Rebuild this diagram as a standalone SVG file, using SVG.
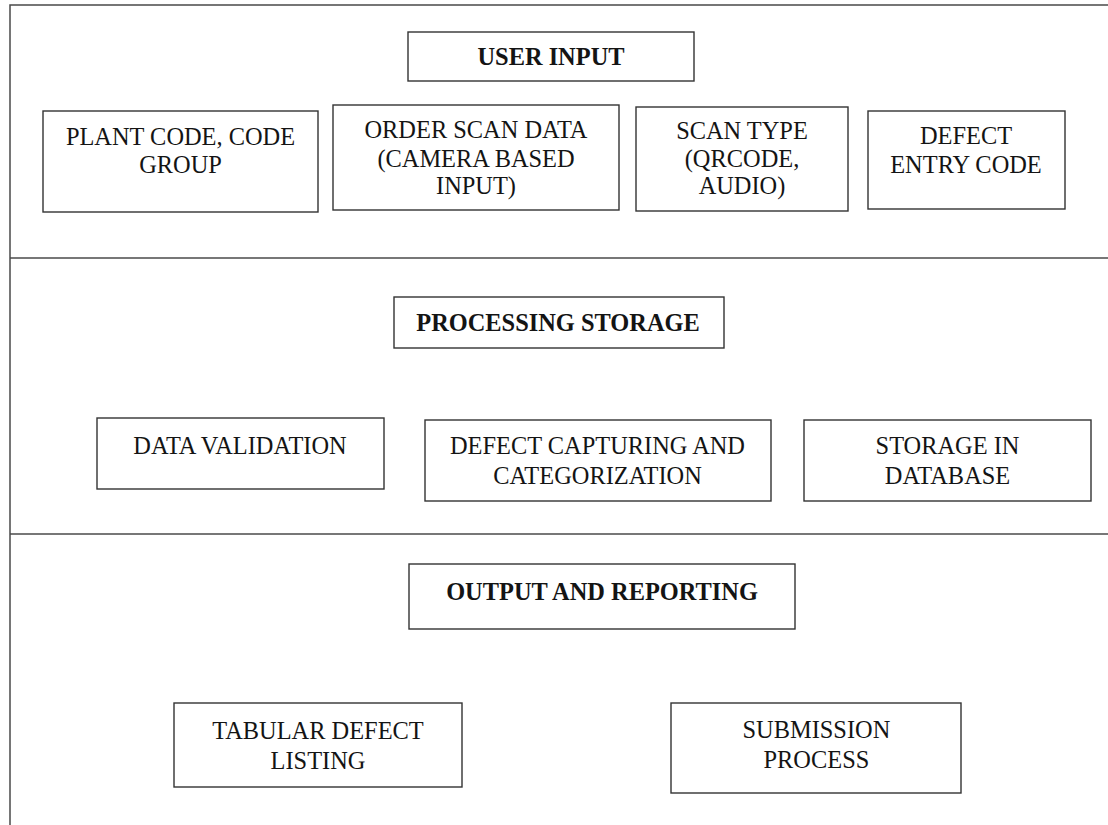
<svg xmlns="http://www.w3.org/2000/svg" width="1108" height="825" viewBox="0 0 1108 825">
<style>
.frame{fill:none;stroke:#4a4a4a;stroke-width:1.5}
.box{fill:#fff;stroke:#333;stroke-width:1.4}
.t{font-family:"Liberation Serif","Times New Roman",serif;font-size:24.4px;fill:#141414;text-anchor:middle}
.h{font-weight:bold}
</style>
<rect width="1108" height="825" fill="#fff"/>
<g id="sections">
<rect class="frame" x="10" y="5" width="1110" height="830"/>
<line class="frame" x1="10" y1="258" x2="1110" y2="258"/>
<line class="frame" x1="10" y1="534" x2="1110" y2="534"/>
</g>
<g id="connectors"/>
<g id="user-input">
<rect class="box" x="408" y="32" width="286" height="49"/>
<text class="t h" x="551" y="65">USER INPUT</text>
</g>
<g id="plant-code">
<rect class="box" x="43" y="111" width="275" height="101"/>
<text class="t" x="180.5" y="145">PLANT CODE, CODE</text>
<text class="t" x="180.5" y="172.7">GROUP</text>
</g>
<g id="order-scan">
<rect class="box" x="333" y="105" width="286" height="105"/>
<text class="t" x="476" y="138.3">ORDER SCAN DATA</text>
<text class="t" x="476" y="166.7">(CAMERA BASED</text>
<text class="t" x="476" y="194.3">INPUT)</text>
</g>
<g id="scan-type">
<rect class="box" x="636" y="107" width="212" height="104"/>
<text class="t" x="742" y="139.3">SCAN TYPE</text>
<text class="t" x="742" y="166.7">(QRCODE,</text>
<text class="t" x="742" y="194.3">AUDIO)</text>
</g>
<g id="defect-entry">
<rect class="box" x="868" y="111" width="197" height="98"/>
<text class="t" x="966" y="144.3">DEFECT</text>
<text class="t" x="966" y="172.7">ENTRY CODE</text>
</g>
<g id="processing-storage">
<rect class="box" x="394" y="297" width="330" height="51"/>
<text class="t h" x="558" y="331.4">PROCESSING STORAGE</text>
</g>
<g id="data-validation">
<rect class="box" x="97" y="418" width="287" height="71"/>
<text class="t" x="240" y="453.6">DATA VALIDATION</text>
</g>
<g id="defect-capturing">
<rect class="box" x="425" y="420" width="346" height="81"/>
<text class="t" x="597.5" y="453.6">DEFECT CAPTURING AND</text>
<text class="t" x="597.5" y="484">CATEGORIZATION</text>
</g>
<g id="storage-db">
<rect class="box" x="804" y="420" width="287" height="81"/>
<text class="t" x="947.5" y="453.6">STORAGE IN</text>
<text class="t" x="947.5" y="484">DATABASE</text>
</g>
<g id="output-reporting">
<rect class="box" x="409" y="564" width="386" height="65"/>
<text class="t h" x="602" y="600">OUTPUT AND REPORTING</text>
</g>
<g id="tabular-listing">
<rect class="box" x="174" y="703" width="288" height="84"/>
<text class="t" x="318" y="738.6">TABULAR DEFECT</text>
<text class="t" x="318" y="768.6">LISTING</text>
</g>
<g id="submission">
<rect class="box" x="671" y="703" width="290" height="90"/>
<text class="t" x="816.4" y="737.5">SUBMISSION</text>
<text class="t" x="816.4" y="767.9">PROCESS</text>
</g>
</svg>
